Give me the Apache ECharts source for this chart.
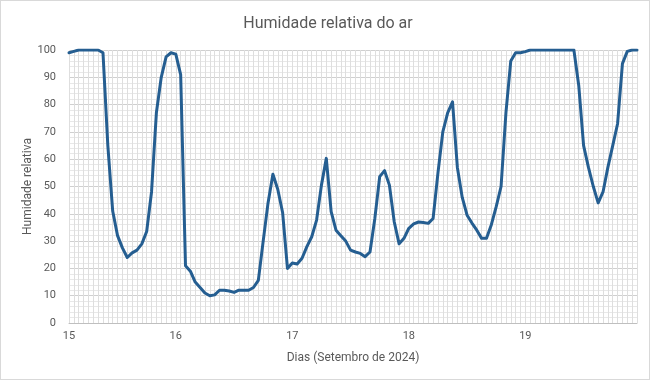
<!DOCTYPE html>
<html>
<head>
<meta charset="utf-8">
<script src="https://cdn.jsdelivr.net/npm/echarts@6/dist/echarts.min.js"></script>
<style>
html,body{margin:0;padding:0;background:#fff;}
#wrap{position:absolute;left:0;top:0;width:650px;height:380px;border:1px solid #d9d9d9;box-sizing:border-box;}
#chart{position:absolute;left:0;top:0;width:656px;height:383px;}
</style>
</head>
<body>
<div id="wrap"></div>
<div id="chart"></div>
<script>
// Hourly readings: first reading 15 Sep 02:00, last 19 Sep 23:00
const startDay = 15;
const startHour = 2;
const dayLabels = ['15', '16', '17', '18', '19'];
const humidity = [
  99, 99.5, 100, 100, 100, 100, 100, 99, 65, 41, 32, 27.5, 24, 25.7, 26.7, 29, 33.5, 48, 77, 90, 97.5, 99,
  98.5, 91, 21, 19, 15, 13, 11, 10, 10.3, 12, 12, 11.7, 11.2, 12, 12, 12, 13, 15.6, 30, 44, 54.5, 49, 40.5, 20,
  22, 21.6, 23.7, 28, 31.6, 37.7, 50.5, 60.3, 40.8, 34, 32, 30, 26.7, 26, 25.5, 24.3, 26, 38.3, 53.6, 55.8, 50.5, 37, 29, 31,
  34.7, 36.3, 37, 36.8, 36.5, 38.3, 55, 70, 77, 81, 57, 46, 39.5, 36.6, 34, 31, 31, 36, 42.6, 50, 77, 96, 99, 99,
  99.4, 100, 100, 100, 100, 100, 100, 100, 100, 100, 100, 87, 65, 57, 50, 44, 48, 57, 65, 73, 95, 99.5, 100, 100
];
const yTicks = [0, 10, 20, 30, 40, 50, 60, 70, 80, 90, 100];

const categories = humidity.map((_, i) => {
  const t = startHour + i;
  const d = startDay + Math.floor(t / 24);
  const h = t % 24;
  return d + ' ' + String(h).padStart(2, '0') + ':00';
});

const chart = echarts.init(document.getElementById('chart'), null, {renderer: 'canvas'});
const fontFam = 'Roboto, "Liberation Sans", sans-serif';
chart.setOption({
  backgroundColor: 'transparent',
  animation: false,
  title: {
    text: 'Humidade relativa do ar',
    left: 'center',
    top: 11,
    textStyle: {color: '#595959', fontSize: 16, fontWeight: 'normal', fontFamily: fontFam}
  },
  grid: {left: 69, right: 19, top: 50, bottom: 60},
  xAxis: {
    type: 'category',
    data: categories,
    boundaryGap: false,
    name: 'Dias (Setembro de 2024)',
    nameLocation: 'middle',
    nameGap: 29,
    nameMoveOverlap: false,
    nameTextStyle: {color: '#595959', fontSize: 12, fontFamily: fontFam},
    axisLine: {show: true, lineStyle: {color: '#bfbfbf', width: 1}},
    axisTick: {show: false},
    axisLabel: {
      color: '#595959', fontSize: 11, fontFamily: fontFam, margin: 8,
      interval: (idx, val) => idx === 0 || val.endsWith(' 00:00'),
      formatter: (val) => {
        const d = val.split(' ')[0];
        return dayLabels.indexOf(d) >= 0 ? d : '';
      }
    },
    splitLine: {show: true, interval: 0, lineStyle: {color: '#dedede', width: 1}}
  },
  yAxis: {
    type: 'value',
    min: yTicks[0],
    max: yTicks[yTicks.length - 1],
    interval: 10,
    name: 'Humidade relativa',
    nameLocation: 'middle',
    nameGap: 35,
    nameMoveOverlap: false,
    nameTextStyle: {color: '#595959', fontSize: 12, fontFamily: fontFam},
    axisLine: {show: false},
    axisTick: {show: false},
    axisLabel: {color: '#595959', fontSize: 11, fontFamily: fontFam, margin: 13},
    splitLine: {show: true, lineStyle: {color: '#d0d0d0', width: 1}},
    minorTick: {show: false, splitNumber: 5},
    minorSplitLine: {show: true, lineStyle: {color: '#e8e8e8', width: 1}}
  },
  series: [{
    type: 'line',
    data: humidity,
    showSymbol: false,
    symbol: 'none',
    smooth: false,
    lineStyle: {color: '#255E91', width: 3, join: 'round', cap: 'round'},
    z: 5
  }]
});
</script>
</body>
</html>
